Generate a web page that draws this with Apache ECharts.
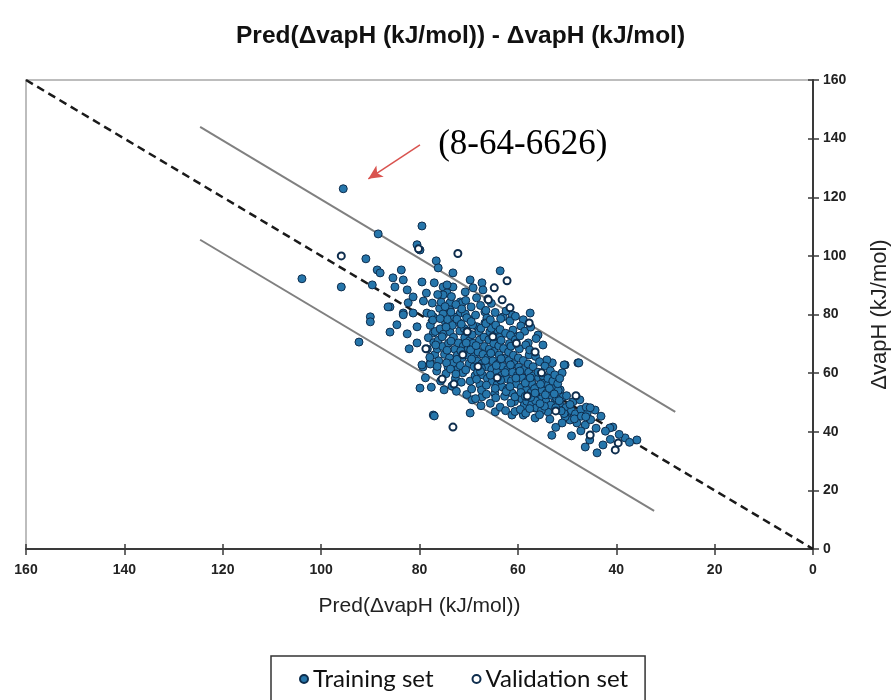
<!DOCTYPE html>
<html>
<head>
<meta charset="utf-8">
<script src="https://cdn.jsdelivr.net/npm/echarts@6/dist/echarts.min.js"></script>
<style>html,body{margin:0;padding:0;background:#fff}#c{width:893px;height:700px}</style>
</head>
<body>
<div id="c"></div>
<script>
// Axis ticks
const xTicks = [0, 20, 40, 60, 80, 100, 120, 140, 160];
const yTicks = [0, 20, 40, 60, 80, 100, 120, 140, 160];

// Training set: [Pred(ΔvapH), ΔvapH]
const trainingSet = [
  [95.5,122.9],[103.9,92.2],[95.9,89.4],[90.9,99],[88.4,107.5],[79.5,110.2],[80.5,103.8],[79.9,102],
  [76.6,98.3],[76.2,95.9],[73.2,94.2],[88.6,95.2],[88,94.2],[83.7,95.2],[85.4,92.5],[83.3,91.8],
  [89.6,90.1],[79.5,91.1],[77,90.8],[75.2,89.4],[73.2,89.4],[86,82.6],[85,89.4],[82.5,88.4],
  [82.3,84],[81.3,86],[83.3,80.5],[78.5,80.5],[77.2,79.2],[73.8,84],[74.4,87.4],[90,79.2],
  [63.6,94.9],[69.7,91.8],[67.3,90.8],[67.1,88.4],[69.1,89.1],[70.7,87.7],[71.7,84.3],[74.4,90.1],
  [75.2,86.7],[57.5,80.5],[61.2,79.9],[63,79.2],[66.7,80.9],[66.3,78.8],[58.9,78.2],[69.7,78.2],
  [68.3,75.8],[73.8,81.6],[71.7,80.5],[64.2,74.7],[61,74.7],[60.2,72.4],[55.9,73],[54.9,69.6],
  [57.9,70.3],[50.4,62.8],[47.8,63.5],[53,63.5],[54.1,64.5],
  [77.2,45.7],[75,54.3],[77.8,63.5],[79.3,62.1],[71.3,84],[69.3,50.9],[67.3,51.9],[64.6,46.8],
  [61.2,45.7],[58.9,45.7],[56.5,44.7],[53.9,46.8],[56.5,48.1],[50,45.1],[51.4,49.8],[54.1,54.3],
  [69.7,46.4],
  [47.6,63.5],[50.6,62.8],[51,60.1],[44.3,47.4],[40.7,41.6],[41.3,41.3],[38.2,37.9],[35.8,37.2],
  [42.7,35.5],[43.9,32.8],[46.3,34.8],[48.8,50.2],[47.4,50.9],[49.4,44],[50.4,45.1],[48,43],
  [46.3,42.3],[45.9,46.4],[51,43],[51.4,54.3],[50.8,51.9],
  [79.9,54.9],[77,45.4],[92.3,70.6],[90,77.5],[86.4,82.6],[86,74],[84.6,76.5],[82.5,73.4],
  [82.1,68.3],[80.5,70.3],[79.5,62.8],[77.8,63.1],[83.3,79.9],[81.3,80.5],[80.5,75.8],[77.2,73.7],
  [45.2,44.1],[43.1,45.3],[42.2,40.2],[39.4,39.1],[37.3,36.4],[44.1,41.2],[47.2,40.3],[49.1,38.6],
  [45.4,37.2],[41.2,37.4],[52.3,41.5],[53.1,38.8],
  [50.2,48.3],[49.1,47.2],[48.3,46.1],[47.2,47.6],[46.1,48.4],[49.4,49.3],[50.6,46.2],[48.5,44.4],
  [47.1,45.3],[51.2,47.1],[52.4,50.2],[50.1,52.3],[46.2,45.1],[45.3,48.2],
  [78.2,72.1],[77.8,76.3],[78.4,68.2],[77.6,80.1],
  [77.1,70.4],[76.8,74.2],[77.3,78.1],[76.9,66.3],
  [76.2,71.2],[75.8,75.1],[76.4,68.3],[75.9,82.1],[76.1,64.2],
  [75.1,73.3],[74.7,77.2],[75.3,69.1],[74.9,66.4],[75.2,80.2],
  [74.1,70.2],[73.8,74.1],[74.3,78.3],[73.9,65.2],[74.2,62.1],
  [73.1,72.2],[72.8,68.1],[73.3,76.3],[72.9,79.1],[73.2,63.4],[72.7,58.2],
  [72.1,70.3],[71.8,74.4],[72.3,66.1],[71.9,77.2],[72.2,61.3],
  [71.1,69.2],[70.8,72.1],[71.3,65.3],[70.9,75.2],[71.2,60.1],[70.7,80.2],
  [70.1,68.4],[69.8,71.1],[70.3,74.3],[69.9,63.2],[70.2,66.1],[69.7,57.3],
  [69.1,70.2],[68.8,66.3],[69.3,73.1],[68.9,62.2],[69.2,76.4],[68.7,59.1],
  [68.1,67.2],[67.8,71.3],[68.3,64.1],[67.9,74.2],[68.2,60.3],[67.7,56.1],
  [67.1,66.4],[66.8,69.1],[67.3,63.2],[66.9,72.3],[67.2,59.4],[66.7,77.1],[67.4,54.2],
  [66.1,65.3],[65.8,68.2],[66.3,62.1],[65.9,71.4],[66.2,58.2],[65.7,74.1],
  [65.1,64.2],[64.8,67.4],[65.3,61.3],[64.9,70.1],[65.2,57.2],[64.7,53.1],[65.4,75.3],
  [64.1,63.1],[63.8,66.2],[64.3,60.4],[63.9,69.3],[64.2,56.1],[63.7,72.2],
  [63.1,62.3],[62.8,65.1],[63.3,59.2],[62.9,68.4],[63.2,55.3],[62.7,52.1],[63.4,71.2],
  [62.1,61.2],[61.8,64.3],[62.3,58.1],[61.9,67.2],[62.2,54.4],[61.7,70.1],
  [61.1,60.3],[60.8,63.2],[61.3,57.4],[60.9,66.1],[61.2,53.2],[60.7,50.3],[61.4,69.2],
  [60.1,59.2],[59.8,62.1],[60.3,56.3],[59.9,65.2],[60.2,52.1],[59.7,68.3],
  [59.1,58.4],[58.8,61.2],[59.3,55.1],[58.9,64.3],[59.2,51.2],[58.7,49.1],
  [58.1,57.2],[57.8,60.3],[58.3,54.2],[57.9,63.1],[58.2,50.4],[57.7,66.2],
  [57.1,56.3],[56.8,59.1],[57.3,53.4],[56.9,62.2],[57.2,49.3],
  [56.1,55.2],[55.8,58.4],[56.3,52.1],[55.9,60.3],[56.2,48.2],
  [55.1,54.1],[54.8,57.3],[55.3,51.2],[54.9,59.1],[55.2,47.3],
  [54.1,53.2],[53.8,56.1],[54.3,50.3],[53.9,58.2],
  [53.1,52.4],[52.8,55.2],[53.3,49.1],[52.9,57.3],
  [52.1,51.3],[51.8,54.1],[52.3,48.2],[51.9,56.4],
  [79.2,84.6],[78.6,87.3],[77.4,83.9],[76.3,86.8],[75.6,84.2],[74.8,82.7],[73.5,86.1],[72.6,83.4],
  [71.4,81.9],[70.6,84.8],[69.5,82.6],[68.4,85.7],[67.6,83.1],[66.5,81.4],[65.4,83.8],[64.6,80.7],
  [63.5,78.6],[62.4,81.2],[61.6,77.8],[60.5,79.4],[59.4,76.1],[58.6,74.3],[57.4,75.7],[56.3,71.8],
  [78.8,58.4],[77.6,55.2],[76.5,60.7],[75.7,57.3],[74.6,59.8],[73.4,55.6],[72.5,53.8],[71.5,56.9],
  [70.4,52.7],[69.4,54.6],[68.6,51.3],[67.5,48.9],[66.4,52.8],[65.6,49.7],[64.5,51.6],[63.6,48.4],
  [62.5,47.2],[61.4,49.8],[60.6,46.9],[59.5,47.6],[58.4,46.3],[57.6,47.9],[56.4,50.6],[55.6,45.8],
  [54.6,48.7],[53.5,44.3],
  [76.7,69.6],[75.4,72.4],[74.4,67.8],[73.6,70.9],[72.4,64.7],[71.6,67.6],[70.5,70.3],[69.6,67.9],
  [68.5,69.4],[67.4,61.7],[66.6,64.3],[65.5,66.8],[64.4,62.6],[63.4,64.9],[62.6,60.2],[61.5,62.8],
  [60.4,58.3],[59.6,60.7],[58.5,56.6],[57.5,58.4],[56.6,54.7],[55.4,56.2],[54.4,52.6],[53.6,54.8],
  [52.6,52.9],[51.6,50.6],[77.9,65.4],[76.4,62.3],[74.5,63.5],[73.7,61.4],[72.6,59.7],[71.7,62.6],
  [70.6,61.1],[69.4,64.8],[68.4,57.9],[67.6,60.6],[66.4,55.9],[65.6,59.3],[64.6,54.8],[63.5,57.6],
  [62.4,53.7],[61.6,55.4],[60.6,51.9],[59.4,53.4],[58.5,52.1],[57.4,51.7],[56.5,53.2],[55.5,49.6],
  [75.8,78.6],[74.6,75.7],[73.6,80.8],[72.4,78.4],[71.5,76.7],[70.4,78.9],[69.5,77.6],[68.6,79.8],
  [67.5,75.3],[66.5,76.9],[65.6,78.2],[64.5,76.4],[63.6,74.9],[62.5,73.6],[61.5,72.9],[60.5,71.4],
  [59.6,72.7],[58.4,69.6],[57.6,67.9],[56.4,65.7],[55.6,63.9],[54.5,62.4],[53.4,60.8],[52.5,59.4],
  [51.5,58.2]
];

// Validation set: [Pred(ΔvapH), ΔvapH]
const validationSet = [
  [95.9,100],[72.2,100.8],[62.2,91.5],[64.8,89.1],[63.2,85],[66.1,85.3],[61.6,82.3],[57.7,77.1],
  [56.5,67.2],[73.2,41.6],[73,56.3],[75.4,58],[78.7,68.3],[66,85],[45.3,38.9],[39.6,36.2],
  [40.2,33.8],[80.2,102.4],[60.3,70.2],[55.2,60.1],[68.1,62.3],[64.2,58.4],[70.3,74.1],[58.1,52.2],
  [52.3,47.1],[48.2,52.3],[65.1,72.4],[71.2,66.3]
];

// Reference lines
const identityLine = [[160,160],[0,0]];
const upperBound = [[124.6,144.0],[28.0,46.8]];
const lowerBound = [[124.6,105.5],[32.3,13.0]];

// Annotation
const annotationText = '(8-64-6626)';
const annotationPos = [76.2, 137.8];
const arrowFrom = [79.9, 137.9];
const arrowTo = [90.4, 126.3];

const axisColor = '#3a3a3a';
const labelStyle = {color:'#222', fontFamily:'Liberation Sans', fontWeight:'bold', fontSize:14};

const chart = echarts.init(document.getElementById('c'), null, {renderer:'canvas'});
chart.setOption({
  backgroundColor:'#fff',
  animation:false,
  title:{
    text:'Pred(ΔvapH (kJ/mol)) - ΔvapH (kJ/mol)',
    left:231, top:19,
    textStyle:{fontFamily:'Liberation Sans', fontWeight:'bold', fontSize:24.5, color:'#111'}
  },
  legend:{
    data:['Training set','Validation set'],
    top:656, left:271,
    orient:'horizontal',
    itemWidth:8, itemHeight:8, itemGap:38,
    padding:[11,17,40,28],
    borderColor:'#333', borderWidth:1.5,
    textStyle:{fontFamily:'Lato', fontSize:24, color:'#111'}
  },
  grid:{left:26, right:80, top:80, bottom:151, show:true, borderColor:'#a8a8a8', borderWidth:1.5,
        outerBoundsMode:'none', containLabel:false},
  xAxis:[{
    type:'value', inverse:true, min:0, max:160, interval:20, position:'bottom',
    name:'Pred(ΔvapH (kJ/mol))', nameLocation:'middle', nameGap:47,
    nameTextStyle:{fontFamily:'Liberation Sans', fontSize:21, color:'#222'},
    axisLine:{onZero:false, lineStyle:{color:axisColor, width:2}},
    axisTick:{length:6, lineStyle:{color:axisColor, width:1.5}},
    splitLine:{show:false},
    axisLabel:Object.assign({margin:14, formatter:v=>xTicks.includes(v)?String(v):''}, labelStyle)
  },{
    type:'value', inverse:true, min:0, max:160, interval:20, position:'bottom',
    axisLine:{show:false}, axisLabel:{show:false}, splitLine:{show:false},
    axisTick:{inside:true, length:5, lineStyle:{color:axisColor, width:1.5}}
  }],
  yAxis:[{
    type:'value', min:0, max:160, interval:20, position:'right',
    name:'ΔvapH (kJ/mol)', nameLocation:'middle', nameGap:56, nameRotate:90,
    nameTextStyle:{fontFamily:'Liberation Sans', fontSize:22, color:'#222'},
    axisLine:{show:true, onZero:false, lineStyle:{color:axisColor, width:2}},
    axisTick:{show:true, length:6, lineStyle:{color:axisColor, width:1.5}},
    splitLine:{show:false},
    axisLabel:Object.assign({margin:10, formatter:v=>yTicks.includes(v)?String(v):''}, labelStyle)
  },{
    type:'value', min:0, max:160, interval:20, position:'right',
    axisLine:{show:false}, axisLabel:{show:false}, splitLine:{show:false},
    axisTick:{show:true, inside:true, length:5, lineStyle:{color:axisColor, width:1.5}}
  }],
  series:[
    {type:'line', data:upperBound, symbol:'none', silent:true, lineStyle:{color:'#808080', width:2}, z:1},
    {type:'line', data:lowerBound, symbol:'none', silent:true, lineStyle:{color:'#808080', width:2}, z:1},
    {type:'line', data:identityLine, symbol:'none', silent:true, lineStyle:{color:'#1a1a1a', width:2.5, type:[8,5]}, z:1},
    {name:'Training set', type:'scatter', data:trainingSet, symbol:'circle', symbolSize:8,
      itemStyle:{color:'#2676ab', borderColor:'#0e2d4d', borderWidth:1, opacity:1}, z:3},
    {name:'Validation set', type:'scatter', data:validationSet, symbol:'circle', symbolSize:7,
      itemStyle:{color:'#ffffff', borderColor:'#0e2d4d', borderWidth:2, opacity:1}, z:4},
    {type:'scatter', data:[annotationPos], symbolSize:0, silent:true,
      label:{show:true, position:'right', distance:0, formatter:annotationText,
        fontFamily:'Liberation Serif', fontSize:35, color:'#000000', opacity:1},
      markLine:{silent:true, symbol:['none','arrow'], symbolSize:[10,14],
        lineStyle:{color:'#d9534f', width:1.5, type:'solid'}, label:{show:false},
        data:[[{coord:arrowFrom},{coord:arrowTo}]]},
      z:5}
  ]
});
</script>
</body>
</html>
